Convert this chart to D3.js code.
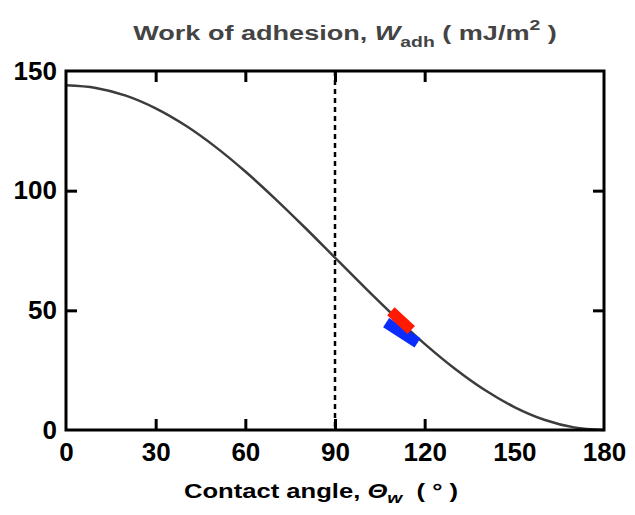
<!DOCTYPE html>
<html>
<head>
<meta charset="utf-8">
<script src="https://cdn.jsdelivr.net/npm/d3@7"></script>
<style>
  body { margin: 0; background: #fff; }
  svg { display: block; font-family: "Liberation Sans", Arial, sans-serif; }
</style>
</head>
<body>
<svg id="chart" width="635" height="515"></svg>
<script>
// Work of adhesion of water vs. contact angle
const angles = [0, 10, 20, 30, 40, 50, 60, 70, 80, 90, 100, 110, 120, 130, 140, 150, 160, 170, 180];
const workValues = [144, 142.9, 139.7, 134.4, 127.2, 118.3, 108, 96.6, 84.5, 72, 59.5, 47.4, 36, 25.7, 16.8, 9.6, 4.3, 1.1, 0];

// measured ranges drawn as thick segments: [angle start, angle end], [W start, W end]
const redAngles = [108.7, 115.5];
const redWork = [49.6, 41.8];
const blueAngles = [107.1, 117.6];
const blueWork = [44.9, 36.4];

const xTicks = [0, 30, 60, 90, 120, 150, 180];
const yTicks = [0, 50, 100, 150];
const dividerAngle = [90];

const svg = d3.select("#chart");
const plotLeft = 66, plotRight = 604, plotTop = 71, plotBottom = 430;

const x = d3.scaleLinear().domain([0, 180]).range([plotLeft, plotRight]);
const y = d3.scaleLinear().domain([0, 150]).range([plotBottom, plotTop]);

// vertical dashed reference at 90°
svg.selectAll("line.divider").data(dividerAngle).join("line")
  .attr("class", "divider")
  .attr("x1", d => x(d)).attr("x2", d => x(d))
  .attr("y1", y(150)).attr("y2", y(0))
  .attr("stroke", "#000").attr("stroke-width", 2.5)
  .attr("stroke-dasharray", "5,4");

// theoretical curve
const line = d3.line()
  .x((d, i) => x(angles[i]))
  .y(d => y(d))
  .curve(d3.curveCatmullRom);
svg.append("path")
  .attr("d", line(workValues))
  .attr("fill", "none")
  .attr("stroke", "#3c3c3c")
  .attr("stroke-width", 2.5);

// measured ranges
const segments = [
  { a: blueAngles, w: blueWork, color: "#0a2cff" },
  { a: redAngles, w: redWork, color: "#ff1a00" }
];
svg.selectAll("line.range").data(segments).join("line")
  .attr("class", "range")
  .attr("x1", d => x(d.a[0])).attr("x2", d => x(d.a[1]))
  .attr("y1", d => y(d.w[0])).attr("y2", d => y(d.w[1]))
  .attr("stroke", d => d.color)
  .attr("stroke-width", 11)
  .attr("stroke-linecap", "butt");

// axes with inward ticks on all four sides
const tickLen = 11;
const axisBottom = d3.axisBottom(x).tickValues(xTicks).tickSize(-tickLen).tickPadding(13);
const axisTop = d3.axisTop(x).tickValues(xTicks).tickSize(-tickLen).tickFormat("");
const axisLeft = d3.axisLeft(y).tickValues(yTicks).tickSize(-tickLen).tickPadding(9);
const axisRight = d3.axisRight(y).tickValues(yTicks).tickSize(-tickLen).tickFormat("");

function style(g) {
  g.select(".domain").remove();
  g.selectAll(".tick line").attr("stroke", "#000").attr("stroke-width", 3);
  g.selectAll(".tick text")
    .attr("fill", "#000")
    .style("font-size", "26px")
    .style("font-weight", "bold")
    .style("font-family", "'Liberation Sans', Arial, sans-serif");
}
svg.append("g").attr("transform", `translate(0,${plotBottom})`).call(axisBottom).call(style);
svg.append("g").attr("transform", `translate(0,${plotTop})`).call(axisTop).call(style);
svg.append("g").attr("transform", `translate(${plotLeft},0)`).call(axisLeft).call(style);
svg.append("g").attr("transform", `translate(${plotRight},0)`).call(axisRight).call(style);

// hide end ticks that sit on the frame
svg.selectAll(".tick").filter(d => d === 0 || d === 180 || d === 150).select("line").remove();

// plot frame
svg.append("rect")
  .attr("x", plotLeft).attr("y", plotTop)
  .attr("width", plotRight - plotLeft).attr("height", plotBottom - plotTop)
  .attr("fill", "none").attr("stroke", "#000").attr("stroke-width", 3);

// title (wide lettering)
const title = svg.append("text")
  .attr("transform", "translate(345,40) scale(1.29,1)")
  .attr("text-anchor", "middle")
  .attr("fill", "#444")
  .style("font-size", "21px").style("font-weight", "bold");
title.append("tspan").text("Work of adhesion, ");
title.append("tspan").style("font-style", "italic").text("W");
title.append("tspan").attr("dy", 7).style("font-size", "15px").text("adh");
title.append("tspan").attr("dy", -7).text(" ( mJ/m");
title.append("tspan").attr("dy", -10).style("font-size", "15px").text("2");
title.append("tspan").attr("dy", 10).text(" )");

// x-axis title (wide lettering)
const xt = svg.append("text")
  .attr("transform", "translate(321,498) scale(1.28,1)")
  .attr("text-anchor", "middle")
  .attr("fill", "#000")
  .style("font-size", "20px").style("font-weight", "bold");
xt.append("tspan").text("Contact angle, ");
xt.append("tspan").style("font-style", "italic").text("Θ");
xt.append("tspan").attr("dy", 5).style("font-size", "15px").style("font-style", "italic").text("w");
xt.append("tspan").attr("dy", -5).text("\u00a0\u00a0( ° )");
</script>
</body>
</html>
